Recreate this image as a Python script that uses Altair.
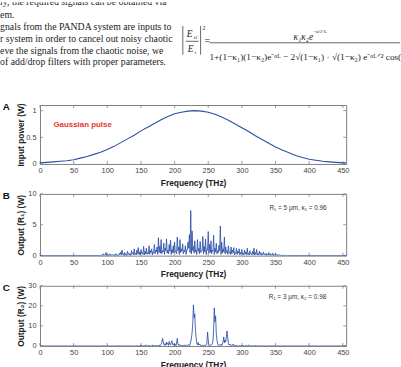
import altair as alt
import pandas as pd

# ---------------- data ----------------
freq_a = [0, 10, 20, 30, 40, 50, 60, 70, 80, 90, 100, 110, 120, 130, 140, 150, 160, 170, 180, 190,
          200, 210, 220, 230, 240, 250, 260, 270, 280, 290, 300, 310, 320, 330, 340, 350, 360, 370,
          380, 390, 400, 410, 420, 430, 440, 450, 460]
power_a = [0.02, 0.03, 0.04, 0.05, 0.06, 0.08, 0.11, 0.14, 0.18, 0.22, 0.27, 0.33, 0.40, 0.47, 0.54,
           0.62, 0.69, 0.76, 0.83, 0.89, 0.94, 0.97, 0.99, 1.00, 0.99, 0.97, 0.93, 0.88, 0.82, 0.75,
           0.68, 0.61, 0.53, 0.46, 0.39, 0.32, 0.26, 0.21, 0.16, 0.12, 0.09, 0.07, 0.05, 0.04, 0.03,
           0.02, 0.02]

# panel B: peaks (even THz) and troughs (odd THz)
freq_b_peaks = [0, 88] + list(range(90, 368, 2)) + [368, 460]
out_b_peaks = [0, 0,
               0.05, 0.1, 0.3, 0.1, 0.5, 0.2,
               0.1, 0.3, 0.1, 0.2, 0.1, 0.3, 0.2, 0.1, 0.4,
               0.6, 0.9, 0.3, 0.5, 0.2, 0.7, 0.4, 0.3, 0.8,
               0.5, 1.1, 0.4, 0.9, 1.3, 0.6, 1.0, 0.5, 1.5,
               0.7, 1.2, 0.5, 1.6, 0.8, 1.1, 0.6, 1.8, 0.9, 1.4,
               2.9, 1.5, 2.6, 0.8, 2.0, 1.2, 2.7, 0.9, 1.8, 2.5,
               1.0, 1.6, 2.2, 0.7, 3.0, 1.4, 2.6, 1.1, 1.9, 0.8,
               1.6, 0.9, 2.2, 3.4, 7.3, 4.0, 1.5, 2.4, 0.9, 2.6,
               1.2, 2.3, 0.8, 3.1, 1.5, 2.7, 1.0, 3.9, 1.8, 2.4,
               0.9, 3.3, 1.2, 2.0, 0.8, 1.7, 4.8, 2.2, 1.1, 3.0,
               1.4, 0.8, 1.6, 0.6, 1.4, 0.9, 1.3, 0.5, 1.2, 0.7,
               1.1, 0.5, 1.0, 0.4, 0.9, 0.6, 1.2, 0.4, 0.8, 0.3,
               0.7, 1.2, 0.5, 1.0, 0.3, 0.7, 0.5, 0.3, 0.6, 0.2,
               0.4, 0.2, 0.5, 0.3, 0.2, 0.4, 0.1, 0.3, 0.1, 0.2, 0.1,
               0.05, 0.1, 0.05, 0.02, 0.0,
               0, 0]
freq_b_troughs = list(range(91, 366, 2))
out_b_troughs = [0, 0.05, 0, 0.1, 0,
                 0, 0.05, 0, 0.1, 0, 0.05, 0, 0.1, 0, 0.2,
                 0.1, 0.2, 0, 0.1, 0, 0.2, 0.1, 0, 0.3, 0.1,
                 0.2, 0.1, 0.3, 0.2, 0.1, 0.4, 0.2, 0.1, 0.3, 0.2,
                 0.3, 0.2, 0.5, 0.1, 0.4, 0.3, 0.6, 0.2, 0.5, 0.4,
                 0.3, 0.6, 0.2, 0.8, 0.4, 0.3, 0.7, 0.2, 0.5, 0.4,
                 0.6, 0.3, 0.8, 0.2, 0.5, 0.7, 0.3, 0.6, 0.2, 0.9,
                 1.2, 0.5, 0.3, 0.8, 0.4, 0.6, 0.2, 0.7, 0.3, 0.5,
                 0.8, 0.3, 0.6, 0.2, 0.9, 0.4, 0.5, 0.3, 0.7, 0.2,
                 0.6, 0.3, 0.5, 0.8, 0.2, 0.4, 0.6, 0.3, 0.5, 0.2,
                 0.4, 0.2, 0.3, 0.5, 0.1, 0.3, 0.2, 0.4, 0.1, 0.3,
                 0.2, 0.1, 0.3, 0.1, 0.2, 0.1, 0.3, 0.1, 0.2, 0.1,
                 0.2, 0.1, 0.1, 0.2, 0.05, 0.1, 0.2, 0.05, 0.1, 0.05,
                 0.1, 0.05, 0.1, 0, 0.05, 0.1, 0, 0.05, 0, 0,
                 0, 0, 0]

freq_c = [0, 138] + list(range(140, 175, 2)) + list(range(175, 301)) + list(range(302, 331, 2)) + [332, 460]
out_c = [0, 0,
         0, 0, 0.1, 0, 0, 0.3, 0, 0.1, 0, 0.5, 0, 0.2, 0, 0.1, 0.4, 0, 0.2, 0,
         0.1, 0.3, 0.0, 0.5, 0.2, 0.8, 1.5, 3.8, 2.5, 1.0,
         0.3, 1.2, 0.4, 2.0, 0.8, 1.5, 0.3, 2.3, 1.0, 0.5,
         1.8, 2.6, 0.9, 0.4, 1.2, 0.3, 0.8, 0.2, 1.5, 3.8,
         1.0, 0.3, 0.8, 0.2, 0.5, 0.1, 0.4, 0.1, 0.3, 0.1,
         0.6, 0.2, 0.1, 0.4, 0.1, 0.3, 0.8, 0.2, 1.0, 2.0,
         4.0, 6.5, 11.0, 20.5, 14.0, 16.0, 8.0, 4.0, 1.5, 0.6,
         1.8, 0.5, 1.0, 0.3, 0.6, 0.2, 0.4, 0.1, 0.3, 0.1,
         0.5, 0.2, 0.6, 1.5, 7.0, 3.0, 0.8, 0.3, 0.5, 0.2,
         0.6, 1.0, 2.5, 8.0, 19.0, 12.0, 15.0, 6.0, 3.0, 1.0,
         0.4, 0.2, 0.5, 0.4, 1.0, 0.3, 0.8, 2.0, 4.5, 1.5,
         3.0, 2.0, 5.0, 7.5, 4.0, 1.2, 0.5, 1.0, 0.3, 0.6,
         0.2, 0.4, 1.0, 0.3, 0.1, 0.5, 0.1, 0.2, 0.0, 0.1,
         0.0, 0.3, 0.0, 0.1, 0.0, 0.1,
         0.2, 0, 0.1, 0, 0.4, 0, 0.1, 0, 0, 0.2, 0, 0, 0.1, 0, 0,
         0, 0]

x_ticks = [0, 50, 100, 150, 200, 250, 300, 350, 400, 450]
y_ticks_a = [0, 0.5, 1]
y_ticks_b = [0, 5, 10]
y_ticks_c = [0, 10, 20, 30]

assert len(freq_a) == len(power_a)
assert len(freq_b_peaks) == len(out_b_peaks), (len(freq_b_peaks), len(out_b_peaks))
assert len(freq_b_troughs) == len(out_b_troughs), (len(freq_b_troughs), len(out_b_troughs))
assert len(freq_c) == len(out_c), (len(freq_c), len(out_c))

freq_b = freq_b_peaks + freq_b_troughs
out_b = out_b_peaks + out_b_troughs

# ---------------- style ----------------
W = 310
BLUE = "#2b4fa6"
FRAME = "#7f7f7f"
SANS = "Liberation Sans"
SERIF = "Liberation Serif"
XDOM = [0, 455]


def panel(freqs, vals, ydom, yticks, ytitle, h, letter, notes, lw):
    df = pd.DataFrame({"freq": freqs, "val": vals}).sort_values("freq")
    xenc = alt.X("freq:Q", scale=alt.Scale(domain=XDOM, nice=False, zero=False),
                 axis=alt.Axis(values=x_ticks, title="Frequency (THz)", domain=False, ticks=False,
                               grid=False, labelFlush=False, labelPadding=3, labelFontSize=7.5,
                               labelFont=SANS, labelColor="#444", titleFont=SANS, titleFontSize=8.5,
                               titleFontWeight="bold", titleColor="#222", titleY=18.5,
                               titleBaseline="middle"))
    yenc = alt.Y("val:Q", scale=alt.Scale(domain=ydom, nice=False, zero=False),
                 axis=alt.Axis(values=yticks, title=ytitle, domain=False, ticks=False, grid=False,
                               format=".2~f", labelPadding=4, labelFontSize=7.5, labelFont=SANS,
                               labelColor="#444", titleFont=SANS, titleFontSize=8.5,
                               titleFontWeight="bold", titleColor="#222", titleX=-20, titleY=h / 2,
                               titleBaseline="middle", titleAngle=270))
    line = alt.Chart(df).mark_line(color=BLUE, strokeWidth=lw, clip=True).encode(
        x=xenc, y=yenc, order="freq:Q")
    xt = pd.DataFrame({"freq": x_ticks})
    yt = pd.DataFrame({"val": yticks})
    tb = alt.Chart(xt).mark_rule(color=FRAME, strokeWidth=0.8).encode(
        x=xenc, y=alt.value(h), y2=alt.value(h - 3))
    tt = alt.Chart(xt).mark_rule(color=FRAME, strokeWidth=0.8).encode(
        x=xenc, y=alt.value(0), y2=alt.value(3))
    tl = alt.Chart(yt).mark_rule(color=FRAME, strokeWidth=0.8).encode(
        y=yenc, x=alt.value(0), x2=alt.value(3))
    tr = alt.Chart(yt).mark_rule(color=FRAME, strokeWidth=0.8).encode(
        y=yenc, x=alt.value(W), x2=alt.value(W - 3))
    lab = alt.Chart(pd.DataFrame({"t": [letter]})).mark_text(
        font=SANS, fontSize=10, fontWeight="bold", color="#111", align="center",
        baseline="middle").encode(text="t:N", x=alt.value(-34), y=alt.value(2))
    layers = [tb, tt, tl, tr, line, lab]
    for (nf, nv, ntext, ncolor, nsize, nweight) in notes:
        ndf = pd.DataFrame({"freq": [nf], "val": [nv], "t": [ntext]})
        layers.append(alt.Chart(ndf).mark_text(font=SANS, fontSize=nsize, fontWeight=nweight,
                                               color=ncolor, align="left", baseline="middle")
                      .encode(x=xenc, y=yenc, text="t:N"))
    return alt.layer(*layers).properties(
        width=W, height=h, view=alt.ViewBackground(stroke=FRAME, strokeWidth=1))


pA = panel(freq_a, power_a, [0, 1.105], y_ticks_a, "Input power (W)", 59.7, "A",
           [(20, 0.73, "Gaussian pulse", "#e8352c", 8, "bold")], 1.1)
pB = panel(freq_b, out_b, [0, 10], y_ticks_b, "Output (R\u2081) (W)", 62.5, "B",
           [(341, 7.7, "R\u2081 = 5 \u03bcm, \u03ba\u2081 = 0.96", "#333", 6.5, "normal")], 0.85)
pC = panel(freq_c, out_c, [0, 30], y_ticks_c, "Output (R\u2082) (W)", 61, "C",
           [(340, 24.6, "R\u2081 = 3 \u03bcm, \u03ba\u2082 = 0.98", "#333", 6.5, "normal")], 0.85)

# ---------------- text block above the figure ----------------
dummy = pd.DataFrame({"d": [0]})


def txt(s, x, y, size=9.5, italic=False, clip=False, align="left"):
    return alt.Chart(dummy).mark_text(
        text=s, align=align, baseline="middle", font=SERIF, fontSize=size, color="#222",
        fontStyle="italic" if italic else "normal", clip=clip).encode(x=alt.value(x), y=alt.value(y))


def hrule(x1, x2, y):
    return alt.Chart(dummy).mark_rule(color="#222", strokeWidth=0.7).encode(
        x=alt.value(x1), x2=alt.value(x2), y=alt.value(y))


def vrule(x, y1, y2):
    return alt.Chart(dummy).mark_rule(color="#222", strokeWidth=0.7).encode(
        x=alt.value(x), y=alt.value(y1), y2=alt.value(y2))


para = [
    ("ly, the required signals can be obtained via", -0.5),
    ("em.", 12.7),
    ("gnals from the PANDA system are inputs to", 25),
    ("r system in order to cancel out noisy chaotic", 37),
    ("eve the signals from the chaotic noise, we", 49),
    ("of add/drop filters with proper parameters.", 60.7),
]
tl = [txt(s, 0, y, 9.9, clip=True) for s, y in para]
formula = [
    vrule(185, 24, 53), vrule(203, 24, 53),
    txt("E", 189, 32, 9.5, italic=True), txt("t2", 196, 35, 5),
    hrule(188, 201, 39.5),
    txt("E", 190, 47, 9.5, italic=True), txt("i", 197, 50, 5),
    txt("2", 205, 26, 6),
    txt("=", 207, 39.5, 10),
    hrule(212, 405, 41),
    txt("\u03ba\u2081\u03ba\u2082e", 297, 35, 9.5, italic=True),
    txt("\u2212\u03b1/2\u00b7L", 317, 29, 5),
    txt("1+(1\u2212\u03ba\u2081)(1\u2212\u03ba\u2082)e\u207b\u1d45\u1d38 \u2212 2\u221a(1\u2212\u03ba\u2081) \u00b7 "
        "\u221a(1\u2212\u03ba\u2082) e\u207b\u1d45\u1d38\u141f\u00b2 cos(", 212, 55, 9.4),
]
top = alt.layer(*(tl + formula)).properties(
    width=390.8, height=73.3, view=alt.ViewBackground(strokeWidth=0, fillOpacity=0))

chart = alt.VConcatChart(vconcat=[top, pA, pB, pC], spacing=30, bounds="flush", center=True,
                         padding=0, background="white")

chart.save("out.html", embed_options={"renderer": "svg", "actions": False})
